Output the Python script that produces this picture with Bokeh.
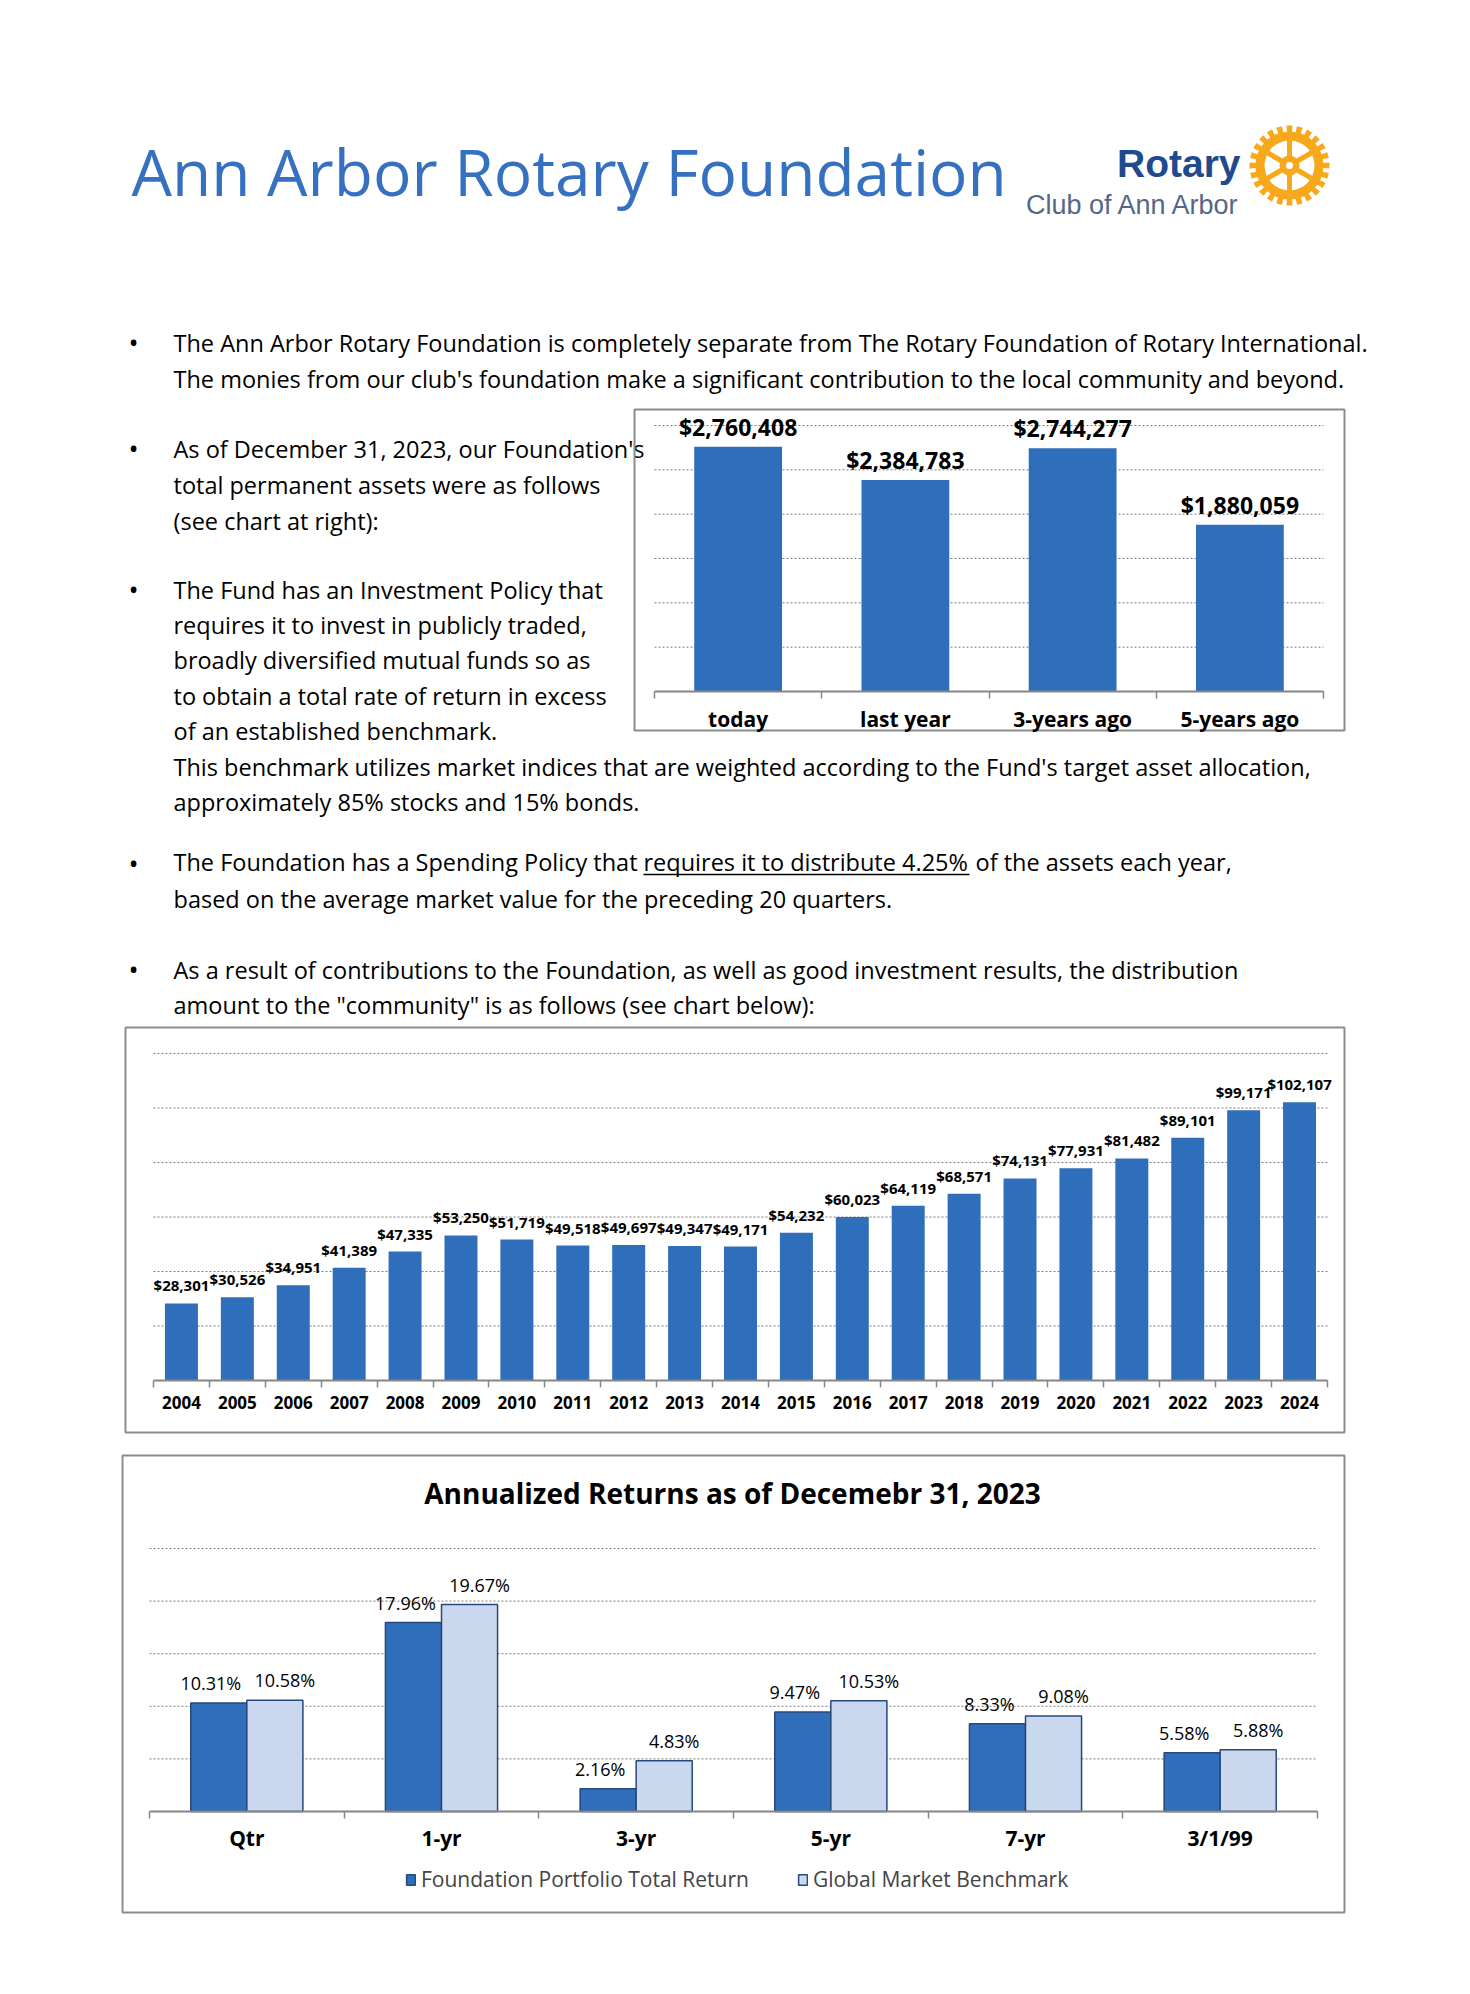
import math
from bokeh.plotting import figure
from bokeh.models import (Range1d, FixedTicker, LinearAxis, Legend, LegendItem, ColumnDataSource)
from bokeh.core.properties import value
from bokeh.embed import file_html
from bokeh.resources import INLINE

# ---------------- data ----------------
asset_cats = ["today", "last year", "3-years ago", "5-years ago"]
asset_vals = [2760408, 2384783, 2744277, 1880059]
asset_grid = [500000, 1000000, 1500000, 2000000, 2500000, 3000000]

dist_years = ["2004", "2005", "2006", "2007", "2008", "2009", "2010", "2011", "2012", "2013",
              "2014", "2015", "2016", "2017", "2018", "2019", "2020", "2021", "2022", "2023", "2024"]
dist_vals = [28301, 30526, 34951, 41389, 47335, 53250, 51719, 49518, 49697, 49347,
             49171, 54232, 60023, 64119, 68571, 74131, 77931, 81482, 89101, 99171, 102107]
dist_grid = [20000, 40000, 60000, 80000, 100000, 120000]

ret_cats = ["Qtr", "1-yr", "3-yr", "5-yr", "7-yr", "3/1/99"]
ret_portfolio = [10.31, 17.96, 2.16, 9.47, 8.33, 5.58]
ret_benchmark = [10.58, 19.67, 4.83, 10.53, 9.08, 5.88]
ret_grid = [5, 10, 15, 20, 25]
ret_series = ["Foundation Portfolio Total Return", "Global Market Benchmark"]
ret_title = "Annualized Returns as of Decemebr 31, 2023"

page_title = "Ann Arbor Rotary Foundation"
bullet1 = ["The Ann Arbor Rotary Foundation is completely separate from The Rotary Foundation of Rotary International.",
           "The monies from our club's foundation make a significant contribution to the local community and beyond."]
bullet2 = ["As of December 31, 2023, our Foundation's", "total permanent assets were as follows",
           "(see chart at right):"]
bullet3 = ["The Fund has an Investment Policy that", "requires it to invest in publicly traded,",
           "broadly diversified mutual funds so as", "to obtain a total rate of return in excess",
           "of an established benchmark.",
           "This benchmark utilizes market indices that are weighted according to the Fund's target asset allocation,",
           "approximately 85% stocks and 15% bonds."]
bullet4a = ["The Foundation has a Spending Policy that", "requires it to distribute 4.25%", "of the assets each year,"]
bullet4b = "based on the average market value for the preceding 20 quarters."
bullet5 = ["As a result of contributions to the Foundation, as well as good investment results, the distribution",
           "amount to the \"community\" is as follows (see chart below):"]

# ---------------- styles ----------------
FONT = "Open Sans"
TITLE_BLUE = "#3671C1"
BAR_BLUE = "#2F6EBA"
LIGHT = "#C9D8EF"
EDGE = "#27487A"
GRAY = "#868686"
GRID = "#7A7A7A"
BOX = "#8C8C8C"
GOLD = "#F7A81B"
BODY = "23.5px"

# page geometry (pixels of the picture)
W, H = 1454, 1930
PX0, PX1, PY0, PY1 = 0, W, 0, H

p = figure(width=W, height=H, x_range=Range1d(PX0, PX1), y_range=Range1d(PY1, PY0),
           x_axis_type=None, y_axis_type=None, toolbar_location=None,
           output_backend="svg", min_border=0)
p.outline_line_color = None
p.background_fill_color = "white"
p.border_fill_color = "white"


def lin_range(d0, d1, s0, s1, lo, hi):
    """data d0 sits at page pixel s0, d1 at s1; range spans page pixels lo..hi"""
    k = (d1 - d0) / (s1 - s0)
    return Range1d(d0 + (lo - s0) * k, d0 + (hi - s0) * k)


def put(x, y, s, size=BODY, bold=False, color="black", align="left", baseline="middle", font=FONT):
    p.text(x=[x], y=[y], text=[s], text_font=value(font), text_font_size=size,
           text_font_style="bold" if bold else "normal", text_color=color,
           text_align=align, text_baseline=baseline)


def dot(y):
    put(133, y, "\u2022", size="27px", align="center")


def chart_box(l, r, t, b):
    p.quad(left=[l], right=[r], top=[t], bottom=[b], fill_color=None, line_color=BOX, line_width=2)


def cat_axis(cats, xr, yr, size, standoff):
    n = len(cats)
    ax = LinearAxis(x_range_name=xr, y_range_name=yr, fixed_location=0, bounds=(0, n),
                    ticker=FixedTicker(ticks=[i + 0.5 for i in range(n)], minor_ticks=list(range(n + 1))))
    ax.major_label_overrides = {i + 0.5: c for i, c in enumerate(cats)}
    ax.major_tick_line_color = None
    ax.major_tick_out = 0
    ax.major_tick_in = 0
    ax.minor_tick_line_color = GRAY
    ax.minor_tick_line_width = 1.5
    ax.minor_tick_out = 7
    ax.minor_tick_in = 0
    ax.axis_line_color = GRAY
    ax.axis_line_width = 2
    ax.major_label_text_font = FONT
    ax.major_label_text_font_style = "bold"
    ax.major_label_text_font_size = size
    ax.major_label_text_color = "black"
    ax.major_label_standoff = standoff
    p.add_layout(ax, "below")


def grid_lines(levels, n, xr, yr):
    p.segment(x0=[0] * len(levels), x1=[n] * len(levels), y0=levels, y1=levels,
              x_range_name=xr, y_range_name=yr, line_color=GRID, line_width=1, line_dash="2 2")


# ---------------- header: title and logo ----------------
put(131, 171, page_title, size="64px", color=TITLE_BLUE)
put(1240, 163, "Rotary", size="39px", bold=True, color="#1F4A8E", align="right",
    font="Liberation Sans")
put(1240, 204, "Club of Ann Arbor", size="27px", color="#56668A", align="right",
    font="Liberation Sans")
cx, cy = 1289, 165
nt = 24
p.annular_wedge(x=[cx] * nt, y=[cy] * nt, inner_radius=30, outer_radius=40,
                start_angle=[2 * math.pi * i / nt - 0.075 for i in range(nt)],
                end_angle=[2 * math.pi * i / nt + 0.075 for i in range(nt)],
                fill_color=GOLD, line_color=None)
p.annulus(x=[cx], y=[cy], inner_radius=25, outer_radius=34, fill_color=GOLD, line_color=None)
sp = [math.pi / 2 + k * math.pi / 3 for k in range(6)]
p.segment(x0=[cx] * 6, y0=[cy] * 6, x1=[cx + 27 * math.cos(a) for a in sp],
          y1=[cy + 27 * math.sin(a) for a in sp], line_color=GOLD, line_width=5)
p.circle(x=[cx], y=[cy], radius=10, fill_color=GOLD, line_color=None)
p.circle(x=[cx], y=[cy], radius=3.5, fill_color="white", line_color=None)

# ---------------- body text ----------------
dot(342)
put(173, 342, bullet1[0])
put(173, 378, bullet1[1])
dot(448)
for i, s in enumerate(bullet2):
    put(173, 448 + 36 * i, s)
dot(589)
for i, s in enumerate(bullet3):
    put(173, 589 + 35.4 * i, s)
dot(863)
put(173, 861, bullet4a[0])
put(643, 861, bullet4a[1])
put(975, 861, bullet4a[2])
p.segment(x0=[643], y0=[874], x1=[969], y1=[874], line_color="black", line_width=1.5)
put(173, 898, bullet4b)
dot(969)
put(173, 969, bullet5[0])
put(173, 1004.5, bullet5[1])

# ---------------- chart 1: total permanent assets ----------------
n1 = len(asset_cats)
p.extra_x_ranges["c1x"] = lin_range(0, n1, 654, 1323, PX0, PX1)
p.extra_y_ranges["c1y"] = lin_range(0, 3000000, 691, 425, PY1, PY0)
chart_box(634, 1344, 409, 730)
grid_lines(asset_grid, n1, "c1x", "c1y")
src1 = ColumnDataSource(dict(x=[i + 0.5 for i in range(n1)], top=asset_vals,
                             label=[f"${v:,}" for v in asset_vals]))
p.vbar(x="x", top="top", width=0.525, source=src1, fill_color=BAR_BLUE, line_color=None,
       x_range_name="c1x", y_range_name="c1y")
p.text(x="x", y="top", text="label", source=src1, text_align="center", text_baseline="alphabetic",
       y_offset=-20, text_font=value(FONT), text_font_style="bold", text_font_size="23px",
       text_color="black", x_range_name="c1x", y_range_name="c1y")
cat_axis(asset_cats, "c1x", "c1y", "21px", 6)

# ---------------- chart 2: distributions ----------------
n2 = len(dist_years)
p.extra_x_ranges["c2x"] = lin_range(0, n2, 153, 1327, PX0, PX1)
p.extra_y_ranges["c2y"] = lin_range(0, 120000, 1380, 1053, PY1, PY0)
chart_box(125, 1344, 1027, 1432)
grid_lines(dist_grid, n2, "c2x", "c2y")
src2 = ColumnDataSource(dict(x=[i + 0.5 for i in range(n2)], top=dist_vals,
                             label=[f"${v:,}" for v in dist_vals]))
p.vbar(x="x", top="top", width=0.59, source=src2, fill_color=BAR_BLUE, line_color=None,
       x_range_name="c2x", y_range_name="c2y")
p.text(x="x", y="top", text="label", source=src2, text_align="center", text_baseline="alphabetic",
       y_offset=-18, text_font=value(FONT), text_font_style="bold", text_font_size="15px",
       text_color="black", x_range_name="c2x", y_range_name="c2y")
cat_axis(dist_years, "c2x", "c2y", "17px", 8)

# ---------------- chart 3: annualized returns ----------------
n3 = len(ret_cats)
p.extra_x_ranges["c3x"] = lin_range(0, n3, 149, 1317, PX0, PX1)
p.extra_y_ranges["c3y"] = lin_range(0, 25, 1811, 1548, PY1, PY0)
chart_box(122, 1344, 1455, 1912)
put(732, 1492, ret_title, size="28px", bold=True, align="center")
grid_lines(ret_grid, n3, "c3x", "c3y")
bw = 0.288
src3a = ColumnDataSource(dict(x=[i + 0.5 - bw / 2 for i in range(n3)], top=ret_portfolio,
                              label=[f"{v:.2f}%" for v in ret_portfolio]))
src3b = ColumnDataSource(dict(x=[i + 0.5 + bw / 2 for i in range(n3)], top=ret_benchmark,
                              label=[f"{v:.2f}%" for v in ret_benchmark]))
r_a = p.vbar(x="x", top="top", width=bw, source=src3a, fill_color=BAR_BLUE, line_color=EDGE,
             line_width=1.5, x_range_name="c3x", y_range_name="c3y")
r_b = p.vbar(x="x", top="top", width=bw, source=src3b, fill_color=LIGHT, line_color=EDGE,
             line_width=1.5, x_range_name="c3x", y_range_name="c3y")
for s, dx in ((src3a, -8), (src3b, 10)):
    p.text(x="x", y="top", text="label", source=s, text_align="center", text_baseline="alphabetic",
           x_offset=dx, y_offset=-20, text_font=value(FONT), text_font_size="18px", text_color="black",
           x_range_name="c3x", y_range_name="c3y")
cat_axis(ret_cats, "c3x", "c3y", "21px", 5)
leg = Legend(items=[LegendItem(label=ret_series[0], renderers=[r_a]),
                    LegendItem(label=ret_series[1], renderers=[r_b])],
             orientation="horizontal", location=(405, 37), glyph_width=11, glyph_height=13,
             label_text_font=FONT, label_text_font_size="21px", label_standoff=5, spacing=48,
             padding=5, margin=0, border_line_color=None, background_fill_alpha=0)
p.add_layout(leg)

open("out.html", "w").write(file_html(p, INLINE))
